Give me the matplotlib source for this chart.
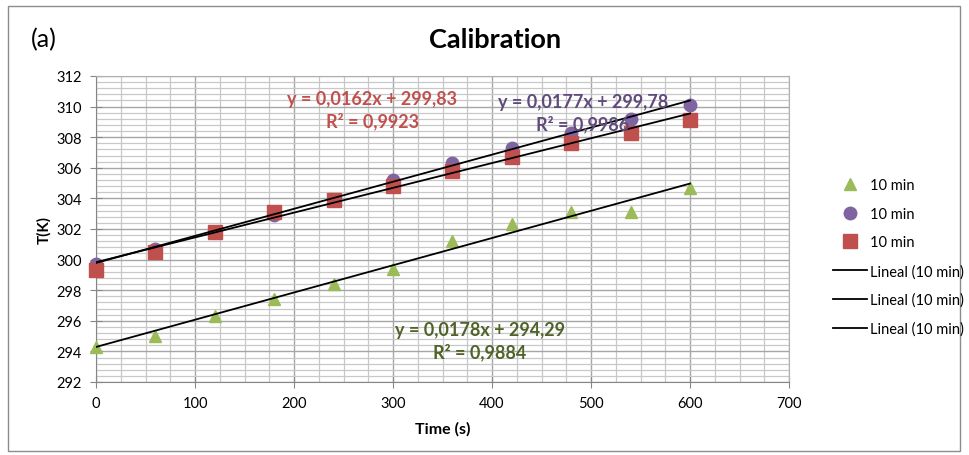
import matplotlib.pyplot as plt
from matplotlib.patches import Rectangle
from matplotlib.ticker import MultipleLocator
import numpy as np

plt.rcParams['font.family'] = ['Lato', 'DejaVu Sans']

time_s = [0, 60, 120, 180, 240, 300, 360, 420, 480, 540, 600]
temp_green = [294.3, 295.0, 296.3, 297.4, 298.4, 299.4, 301.2, 302.3, 303.1, 303.1, 304.7]
temp_purple = [299.7, 300.7, 301.8, 302.9, 303.9, 305.2, 306.3, 307.3, 308.3, 309.2, 310.1]
temp_red = [299.3, 300.5, 301.8, 303.1, 303.9, 304.8, 305.8, 306.7, 307.6, 308.3, 309.1]

slopes = [0.0178, 0.0177, 0.0162]
intercepts = [294.29, 299.78, 299.83]
eq_labels = ["y = 0,0178x + 294,29\nR² = 0,9884",
             "y = 0,0177x + 299,78\nR² = 0,9986",
             "y = 0,0162x + 299,83\nR² = 0,9923"]
series_label = "10 min"
trend_label = "Lineal (10 min)"

fig = plt.figure(figsize=(9.69, 4.56), dpi=100)
ax = fig.add_axes([96 / 969, 1 - 383 / 456, (789 - 96) / 969, (383 - 77) / 456])

# outer frame
fig.patches.append(Rectangle((8 / 969, 4 / 456), 952 / 969, 445 / 456, transform=fig.transFigure,
                             fill=False, edgecolor='#8c8c8c', linewidth=1.0))

ax.set_xlim(0, 700)
ax.set_ylim(292, 312)
ax.xaxis.set_major_locator(MultipleLocator(100))
ax.xaxis.set_minor_locator(MultipleLocator(25))
ax.yaxis.set_major_locator(MultipleLocator(2))
ax.yaxis.set_minor_locator(MultipleLocator(0.4))
ax.grid(which='major', color='#a6a6a6', linewidth=1.0)
ax.grid(which='minor', color='#c8c8c8', linewidth=0.9)
ax.set_axisbelow(True)
for side in ['top', 'right']:
    ax.spines[side].set_color('#b0b0b0')
for side in ['left', 'bottom']:
    ax.spines[side].set_color('#868686')
ax.tick_params(which='major', direction='inout', length=8, color='#868686', labelsize=10.5, pad=6)
ax.tick_params(which='minor', length=0)

colors = ['#9bbb59', '#8064a2', '#c0504d']
markers = ['^', 'o', 's']
sizes = [9, 9, 9.5]
data = [temp_green, temp_purple, temp_red]
handles = []
for y, c, m, s in zip(data, colors, markers, sizes):
    h, = ax.plot(time_s, y, linestyle='none', marker=m, color=c, markersize=s,
                 label=series_label, clip_on=False, zorder=3)
    handles.append(h)

xt = np.array([time_s[0], time_s[-1]])
for k, b in zip(slopes, intercepts):
    h, = ax.plot(xt, k * xt + b, color='black', linewidth=1.3, label=trend_label, zorder=4)
    handles.append(h)

text_colors = ['#4f6228', '#604a7b', '#c0504d']
text_pos = [(388, 294.7), (492, 309.6), (279, 309.8)]
for lab, (tx, ty), tc in zip(eq_labels, text_pos, text_colors):
    ax.text(tx, ty, lab, color=tc, fontsize=13, fontweight='bold', ha='center', va='center',
            linespacing=1.3, zorder=5)

ax.set_xlabel('Time (s)', fontsize=11.5, fontweight='bold', labelpad=8)
ax.set_ylabel('T(K)', fontsize=11, fontweight='bold', labelpad=4)
fig.text(495 / 969, 1 - 40 / 456, 'Calibration', ha='center', va='center', fontsize=19.5, fontweight='bold')
fig.text(31 / 969, 1 - 40 / 456, '(a)', ha='left', va='center', fontsize=18)

leg = fig.legend(handles=handles, loc='upper left', bbox_to_anchor=(820 / 969, 1 - 166 / 456),
                 frameon=False, fontsize=10.5, labelspacing=1.0, handlelength=2.3,
                 handletextpad=0.25)

fig.savefig('out.png', dpi=100)
